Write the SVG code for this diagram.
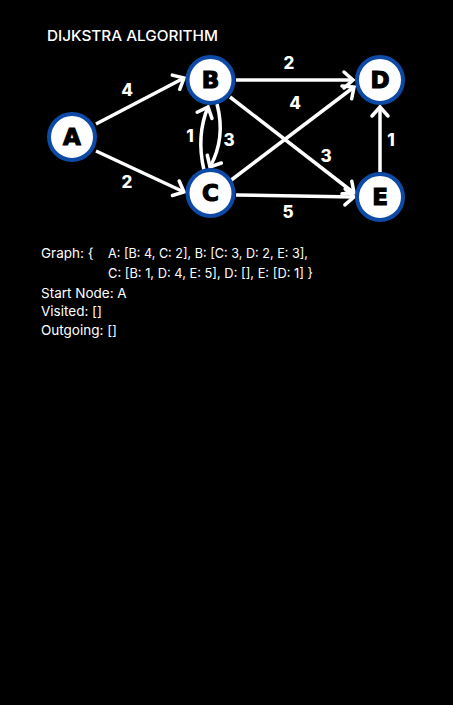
<svg xmlns="http://www.w3.org/2000/svg" width="453" height="705" viewBox="0 0 453 705">
<defs>
<marker id="ah" markerUnits="userSpaceOnUse" markerWidth="24" markerHeight="24" refX="0" refY="0" viewBox="-14 -12 16 24" orient="auto" overflow="visible">
<path d="M-9,-8 L0,0 L-9,8" fill="none" stroke="#fff" stroke-width="3.5" stroke-linejoin="miter" stroke-linecap="round"/>
</marker>
</defs>
<style>
.e{stroke:#fff;stroke-width:3.5;fill:none;marker-end:url(#ah)}
.n circle{fill:#fff;stroke:#0d4aa6;stroke-width:4}
.n text{font-family:"DejaVu Sans","Liberation Sans",sans-serif;font-weight:900;font-size:23px;fill:#000;text-anchor:middle;stroke:#000;stroke-width:1.2}
.w{font-family:Inter,"Liberation Sans",sans-serif;font-weight:800;font-size:17px;fill:#fff;text-anchor:middle}
.t{font-family:Inter,"Liberation Sans",sans-serif;font-size:13.5px;fill:#fff}
</style>
<rect width="453" height="705" fill="#000"/>
<text x="47" y="41" font-family="Inter,'Liberation Sans',sans-serif" font-weight="500" font-size="14.5" fill="#fff" textLength="171" lengthAdjust="spacingAndGlyphs">DIJKSTRA ALGORITHM</text>
<g id="connectors">
<line class="e" x1="96" y1="124" x2="184" y2="78"/>
<line class="e" x1="96" y1="151" x2="184" y2="192"/>
<line class="e" x1="236" y1="80" x2="353" y2="80"/>
<line class="e" x1="230" y1="97" x2="354" y2="193"/>
<line class="e" x1="230" y1="181" x2="354" y2="87"/>
<line class="e" x1="236" y1="195" x2="354" y2="197"/>
<line class="e" x1="380" y1="172" x2="380" y2="107"/>
<path class="e" d="M204,170 Q196,136 208,107"/>
<path class="e" d="M217,104 Q226,138 210,167"/>
</g>
<g id="edge-labels">
<text class="w" x="127" y="96">4</text>
<text class="w" x="127" y="188">2</text>
<text class="w" x="289" y="69">2</text>
<text class="w" x="295" y="109">4</text>
<text class="w" x="326" y="162">3</text>
<text class="w" x="288" y="218">5</text>
<text class="w" x="190" y="142">1</text>
<text class="w" x="229" y="146">3</text>
<text class="w" x="391" y="146">1</text>
</g>
<g id="node-A" class="n"><circle cx="72" cy="137" r="23"/><text x="72" y="145">A</text></g>
<g id="node-B" class="n"><circle cx="210.5" cy="80" r="23"/><text x="210.5" y="88">B</text></g>
<g id="node-C" class="n"><circle cx="210.5" cy="193" r="23"/><text x="210.5" y="201">C</text></g>
<g id="node-D" class="n"><circle cx="380" cy="80" r="23"/><text x="380" y="88">D</text></g>
<g id="node-E" class="n"><circle cx="380" cy="197" r="23"/><text x="380" y="205">E</text></g>
<g id="info">
<text class="t" x="41" y="258">Graph: {</text>
<text class="t" x="108" y="258" textLength="200" lengthAdjust="spacingAndGlyphs">A: [B: 4, C: 2], B: [C: 3, D: 2, E: 3],</text>
<text class="t" x="108" y="278" textLength="205" lengthAdjust="spacingAndGlyphs">C: [B: 1, D: 4, E: 5], D: [], E: [D: 1]  }</text>
<text class="t" x="41" y="298">Start Node: A</text>
<text class="t" x="41" y="316">Visited: []</text>
<text class="t" x="41" y="335">Outgoing: []</text>
</g>
</svg>
